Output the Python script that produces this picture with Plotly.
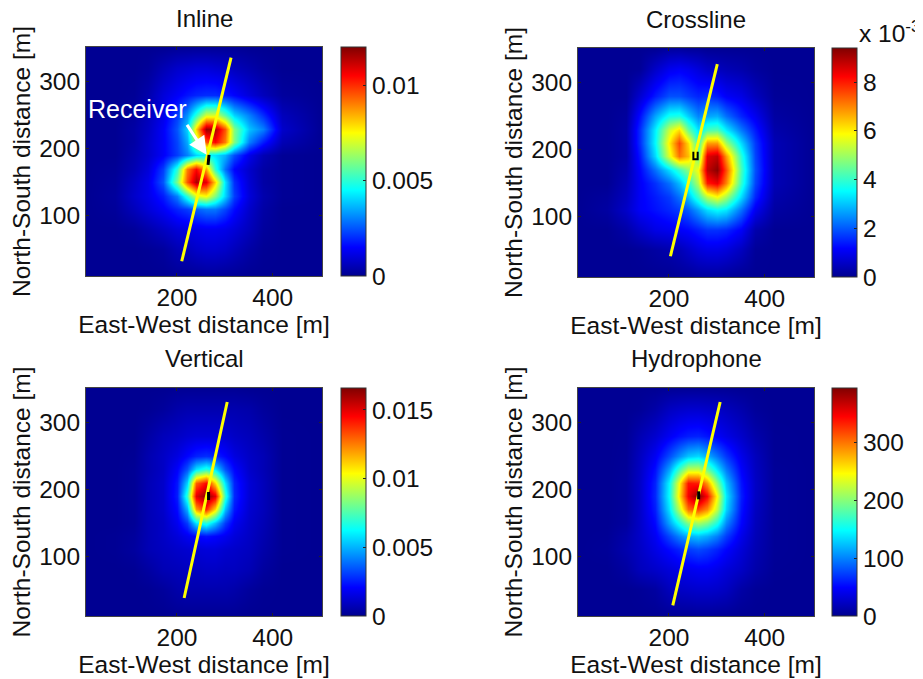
import plotly.graph_objects as go

W, H = 915, 671   # the page body adds an 8 px margin
OFF = 8
# grid positions of the estimated values (metres)
east_m = [10, 70, 110, 140, 170, 200, 220, 240, 260, 280, 300, 320, 350, 380, 420, 503]
north_m = [10, 50, 80, 110, 130, 150, 170, 190, 210, 230, 250, 280, 320, 352]

inline_e3 = [
 [.05,.05,.05,.05,.05,.1,.1,.1,.15,.15,.1,.1,.05,.05,.05,.05],
 [.05,.05,.05,.1,.2,.5,.6,.8,.9,.9,.8,.6,.3,.1,.05,.05],
 [.05,.05,.15,.4,.7,1,1.1,1.2,1.3,1.3,1.2,1,.6,.2,.05,.05],
 [.05,.15,.6,1,1.4,1.9,2.2,2.6,2.9,2.9,2.3,1.6,.8,.3,.05,.05],
 [.05,.2,.8,1.2,1.8,3,5,7,7.5,6,4,2.2,1,.4,.1,.05],
 [.05,.15,.7,1.2,2.5,6,9.5,11.5,10.8,8,4.2,2,.9,.3,.1,.05],
 [.05,.1,.5,1,2.2,5,9,10.5,8.5,5,2.8,1.5,.8,.3,.1,.05],
 [.05,.05,.4,.8,1.4,2.2,3,4,4.5,4.2,3.6,2.4,1.2,.5,.1,.05],
 [.05,.05,.3,.8,1.4,2.3,3.5,6.5,9.5,10.5,9,6,3,1.8,.5,.05],
 [.05,.05,.3,.7,1.4,2.5,4,8,11.7,11.5,9.5,6,3.8,3,.8,.05],
 [.05,.05,.2,.6,1.2,2.2,3.2,5,7,7,5.5,4,3,2,.6,.05],
 [.05,.05,.1,.4,1,1.4,1.7,1.9,2,2,1.8,1.5,1,.6,.2,.05],
 [.05,.05,.05,.15,.5,.8,.9,1,1,.9,.8,.6,.4,.2,.05,.05],
 [.05,.05,.05,.05,.05,.1,.1,.1,.1,.1,.1,.1,.05,.05,.05,.05],
]
crossline_e3 = [
 [.05,.05,.05,.05,.05,.05,.1,.1,.15,.15,.15,.1,.05,.05,.05,.05],
 [.05,.05,.05,.1,.2,.3,.4,.6,.8,.9,.9,.8,.5,.1,.05,.05],
 [.05,.05,.25,.6,.9,1,1.1,1.2,1.4,1.6,1.6,1.5,1.1,.3,.05,.05],
 [.05,.2,.6,1.1,1.3,1.5,1.7,2,2.6,3.2,3.5,3.3,2.2,1,.2,.05],
 [.05,.15,.5,1.1,1.4,1.7,2.2,2.9,4,5.2,5.8,5,3.2,1.5,.3,.05],
 [.05,.05,.4,1.1,1.6,2.2,2.9,3.8,5.2,8,8.4,7,4,1.8,.4,.05],
 [.05,.05,.3,1.2,2.2,3.2,4,4.8,5.8,8.8,9.3,7.5,4.2,1.9,.4,.05],
 [.05,.05,.2,1.4,3.2,5.6,7.2,6.5,4.5,8.5,8.8,6.8,3.9,1.8,.4,.05],
 [.05,.05,.2,1.6,3.5,6,7.6,6.2,4,6.8,6.8,5,3.2,1.7,.4,.05],
 [.05,.05,.2,1.6,3.4,5.4,6.2,4.5,3.3,4.2,4.3,3.4,2.3,1.4,.3,.05],
 [.05,.05,.15,1.3,2.7,3.7,3.8,3.1,2.4,2.7,2.8,2.2,1.5,1,.2,.05],
 [.05,.05,.05,.7,1.4,1.9,1.9,1.7,1.5,1.6,1.4,1.1,.9,.5,.1,.05],
 [.05,.05,.05,.1,.6,1,1.1,1,.8,.6,.5,.4,.3,.15,.05,.05],
 [.05,.05,.05,.05,.05,.15,.15,.1,.1,.05,.05,.05,.05,.05,.05,.05],
]
vertical_e3 = [
 [.05,.05,.05,.05,.05,.1,.1,.1,.1,.1,.1,.1,.05,.05,.05,.05],
 [.05,.05,.05,.1,.25,.5,.6,.6,.6,.6,.6,.5,.25,.1,.05,.05],
 [.05,.05,.1,.35,.7,.8,.9,.9,1,1,.9,.9,.7,.3,.05,.05],
 [.05,.1,.3,.7,.9,1.1,1.2,1.3,1.4,1.4,1.2,1.1,.9,.5,.1,.05],
 [.05,.1,.25,.7,1,1.4,1.8,2.1,2.3,2.1,1.8,1.4,1,.6,.1,.05],
 [.05,.05,.15,.7,1,1.8,3,5.8,6.8,5.2,3,1.8,1.1,.7,.1,.05],
 [.05,.05,.15,.7,1.1,2.2,5,12,14,11,5.2,2.4,1.2,.8,.1,.05],
 [.05,.05,.15,.7,1.1,2.5,7,15,16.5,15,7,2.7,1.3,.8,.1,.05],
 [.05,.05,.15,.7,1.1,2.4,5.5,13,14.5,11,5.8,2.6,1.3,.8,.1,.05],
 [.05,.05,.15,.6,1,2,3.4,5.8,6.8,5.8,3.4,2.1,1.1,.7,.1,.05],
 [.05,.05,.1,.6,1,1.5,2.1,2.6,2.8,2.6,2.1,1.5,1,.7,.1,.05],
 [.05,.05,.05,.4,.8,1,1.2,1.3,1.3,1.3,1.2,1,.8,.5,.1,.05],
 [.05,.05,.05,.1,.25,.5,.6,.6,.6,.6,.6,.6,.5,.25,.05,.05],
 [.05,.05,.05,.05,.05,.1,.1,.1,.1,.1,.1,.1,.05,.05,.05,.05],
]
hydrophone_val = [
 [2,2,2,2,2,3,3,3,4,4,3,3,2,2,2,2],
 [2,2,2,4,8,20,24,26,28,28,26,22,10,4,2,2],
 [2,2,8,20,26,33,38,42,45,45,40,33,24,12,3,2],
 [2,4,14,24,38,52,62,72,78,72,62,50,32,16,4,2],
 [2,3,12,26,44,76,100,118,125,116,98,72,40,18,4,2],
 [2,2,7,26,52,112,155,198,212,195,158,102,50,20,4,2],
 [2,2,6,26,60,138,222,305,320,292,222,132,56,22,4,2],
 [2,2,6,26,64,150,255,350,392,345,245,140,60,24,4,2],
 [2,2,6,26,62,146,245,340,335,285,200,125,56,24,4,2],
 [2,2,5,24,54,112,172,220,222,188,138,96,48,22,4,2],
 [2,2,4,22,44,78,104,126,134,118,94,70,40,20,3,2],
 [2,2,3,16,28,44,54,60,62,56,46,38,26,13,3,2],
 [2,2,2,4,11,22,26,28,28,26,24,20,13,5,2,2],
 [2,2,2,2,2,3,3,3,3,3,3,3,2,2,2,2],
]

titles = ["Inline", "Crossline", "Vertical", "Hydrophone"]
zmax = [12.0, 9.4, 16.6, 395.0]
scale = [1e-3, 1.0, 1e-3, 1.0]
cb_vals = [[0, 0.005, 0.01], [0, 2, 4, 6, 8], [0, 0.005, 0.01, 0.015], [0, 100, 200, 300]]
cb_text = [["0", "0.005", "0.01"], ["0", "2", "4", "6", "8"],
           ["0", "0.005", "0.01", "0.015"], ["0", "100", "200", "300"]]
grids = [inline_e3, crossline_e3, vertical_e3, hydrophone_val]

line_east = [[210, 313], [203, 301], [215, 305], [208, 307]]
line_north = [[32, 336], [41, 328], [37, 331], [26, 331]]
rec_east = [[265, 267], [251, 251, 260, 260], [266, 266], [262, 262]]
rec_north = [[176, 191], [197, 186, 186, 197], [184, 196], [185, 197]]
rec_width = [3, 2, 3, 3]

jet = [[0, "#00008f"], [0.125, "#0000ff"], [0.375, "#00ffff"],
       [0.625, "#ffff00"], [0.875, "#ff0000"], [1, "#800000"]]

FONT = "Liberation Sans"
FS = 24.5
INK = "#111111"
boxes = [(78, 314, 39, 268, 333), (570, 806, 40, 269, 824),
         (78, 314, 380, 608, 333), (570, 806, 380, 608, 824)]

fig = go.Figure()
ann = []
layout = {}
for i, (x0, x1, y0, y1, cbx) in enumerate(boxes):
    suf = "" if i == 0 else str(i + 1)
    z = [[v * scale[i] for v in row] for row in grids[i]]
    fig.add_trace(go.Heatmap(
        x=east_m, y=north_m, z=z, zsmooth="best", colorscale=jet,
        zmin=0, zmax=zmax[i] * scale[i], xaxis="x" + suf, yaxis="y" + suf,
        colorbar=dict(x=cbx / W, xanchor="left", y=1 - y0 / H, yanchor="top",
                      len=(y1 - y0) / H, lenmode="fraction", thickness=25,
                      thicknessmode="pixels", xpad=0, ypad=0, outlinewidth=1,
                      outlinecolor="#333333", tickmode="array", tickvals=cb_vals[i],
                      ticktext=cb_text[i], ticks="inside", ticklen=3, tickcolor="#222222",
                      tickfont=dict(family=FONT, size=FS, color=INK)),
    ))
    fig.add_trace(go.Scatter(x=line_east[i], y=line_north[i], mode="lines",
                             line=dict(color="#ffff00", width=3), showlegend=False,
                             xaxis="x" + suf, yaxis="y" + suf, hoverinfo="skip"))
    fig.add_trace(go.Scatter(x=rec_east[i], y=rec_north[i], mode="lines",
                             line=dict(color="#000000", width=rec_width[i]), showlegend=False,
                             xaxis="x" + suf, yaxis="y" + suf, hoverinfo="skip"))
    layout["xaxis" + suf] = dict(
        domain=[x0 / W, x1 / W], range=[10, 503], anchor="y" + suf,
        tickvals=[200, 400], ticks="inside", ticklen=3, tickcolor="#222222",
        mirror="ticks", showline=True, linecolor="#444444", linewidth=1, showgrid=False,
        zeroline=False, tickfont=dict(family=FONT, size=FS, color=INK),
        title=dict(text="East-West distance [m]", standoff=1,
                   font=dict(family=FONT, size=FS, color=INK)))
    layout["yaxis" + suf] = dict(
        domain=[1 - y1 / H, 1 - y0 / H], range=[10, 352], anchor="x" + suf,
        tickvals=[100, 200, 300], ticks="inside", ticklen=3, tickcolor="#222222",
        mirror="ticks", showline=True, linecolor="#444444", linewidth=1, showgrid=False,
        zeroline=False, tickfont=dict(family=FONT, size=FS, color=INK),
        title=dict(text="North-South distance [m]", standoff=1,
                   font=dict(family=FONT, size=FS, color=INK)))
    ann.append(dict(text=titles[i], xref="paper", yref="paper", x=(x0 + x1) / 2 / W,
                    y=1 - (y0 - 29) / H, xanchor="center", yanchor="middle", showarrow=False,
                    font=dict(family=FONT, size=24, color=INK)))

ann.append(dict(text="x 10<sup>-3</sup>", xref="paper", yref="paper", x=849 / W, y=1 - 24 / H,
                xanchor="left", yanchor="middle", showarrow=False,
                font=dict(family=FONT, size=FS, color=INK)))
ann.append(dict(text="Receiver", xref="x", yref="y", x=11, y=260, xanchor="left", yanchor="middle",
                showarrow=False, font=dict(family=FONT, size=25, color="#ffffff")))
ann.append(dict(text="", xref="x", yref="y", x=262, y=191, axref="x", ayref="y", ax=219, ay=238,
                showarrow=True, arrowhead=2, arrowsize=1.2, arrowwidth=3, arrowcolor="#ffffff"))

fig.update_layout(width=W, height=H, margin=dict(l=0, r=0, t=0, b=0, autoexpand=False),
                  paper_bgcolor="white", plot_bgcolor="white", showlegend=False,
                  annotations=ann, **layout)
fig.write_html("out.html")
